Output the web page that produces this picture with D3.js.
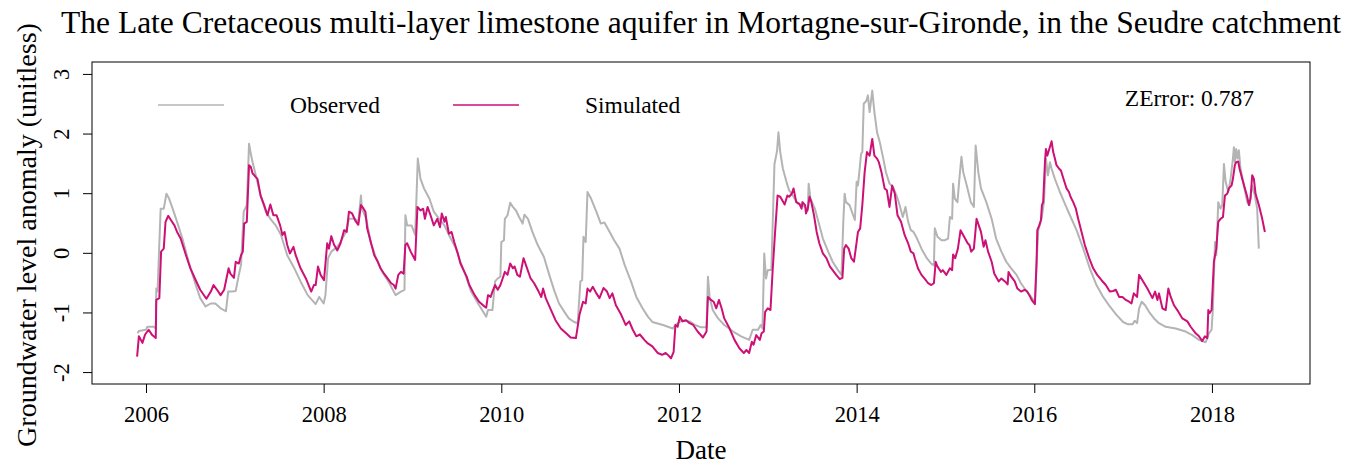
<!DOCTYPE html>
<meta charset="utf-8">
<script src="https://cdn.jsdelivr.net/npm/d3@7"></script>
<style>
  body { margin: 0; background: #fff; }
  text { font-family: "Liberation Serif", "Times New Roman", serif; fill: #000; }
</style>
<div id="my_dataviz"></div>
<script>

// ---- data (decimal year, anomaly) ----
var observed = [[2005.905,-1.35],[2005.92,-1.31],[2006.00,-1.29],[2006.015,-1.24],[2006.09,-1.24],[2006.11,-1.27],[2006.116,-0.60],[2006.13,-0.65],[2006.165,0.74],[2006.20,0.74],[2006.23,0.99],[2006.26,0.91],[2006.30,0.74],[2006.35,0.52],[2006.41,0.24],[2006.48,-0.15],[2006.56,-0.54],[2006.61,-0.76],[2006.67,-0.90],[2006.73,-0.85],[2006.78,-0.85],[2006.84,-0.93],[2006.90,-0.98],[2006.925,-0.65],[2006.97,-0.65],[2007.01,-0.64],[2007.045,-0.37],[2007.07,-0.20],[2007.10,0.69],[2007.135,0.80],[2007.16,1.83],[2007.18,1.66],[2007.20,1.52],[2007.236,1.30],[2007.29,0.96],[2007.35,0.69],[2007.40,0.57],[2007.46,0.46],[2007.52,0.30],[2007.59,-0.04],[2007.67,-0.26],[2007.74,-0.48],[2007.82,-0.71],[2007.91,-0.86],[2007.95,-0.74],[2008.00,-0.85],[2008.02,-0.71],[2008.05,-0.09],[2008.086,0.02],[2008.154,0.10],[2008.19,0.18],[2008.25,0.35],[2008.285,0.57],[2008.35,0.57],[2008.39,0.52],[2008.42,0.96],[2008.43,0.74],[2008.48,0.57],[2008.53,0.18],[2008.59,-0.09],[2008.66,-0.32],[2008.74,-0.51],[2008.81,-0.71],[2008.87,-0.65],[2008.91,-0.62],[2008.92,0.63],[2008.94,0.46],[2008.99,0.46],[2009.03,0.30],[2009.06,1.58],[2009.09,1.24],[2009.13,1.08],[2009.19,0.91],[2009.24,0.69],[2009.30,0.57],[2009.36,0.46],[2009.41,0.30],[2009.49,0.07],[2009.54,-0.15],[2009.61,-0.43],[2009.66,-0.65],[2009.75,-0.88],[2009.83,-1.07],[2009.85,-0.96],[2009.90,-0.96],[2009.93,-0.48],[2009.96,-0.43],[2009.99,-0.40],[2010.00,0.18],[2010.03,0.21],[2010.04,0.57],[2010.07,0.63],[2010.10,0.84],[2010.13,0.77],[2010.165,0.71],[2010.20,0.60],[2010.24,0.49],[2010.26,0.64],[2010.30,0.57],[2010.35,0.35],[2010.41,0.13],[2010.48,-0.07],[2010.54,-0.37],[2010.60,-0.65],[2010.65,-0.85],[2010.71,-0.99],[2010.76,-1.10],[2010.82,-1.16],[2010.86,-1.18],[2010.89,-0.48],[2010.91,-0.46],[2010.925,0.27],[2010.95,0.18],[2010.97,1.02],[2011.01,0.91],[2011.07,0.69],[2011.12,0.49],[2011.16,0.51],[2011.22,0.35],[2011.27,0.21],[2011.33,0.07],[2011.39,-0.21],[2011.46,-0.48],[2011.52,-0.74],[2011.59,-0.93],[2011.65,-1.07],[2011.70,-1.16],[2011.82,-1.21],[2011.93,-1.27],[2011.96,-1.21],[2011.985,-1.18],[2012.04,-1.13],[2012.12,-1.15],[2012.18,-1.21],[2012.25,-1.25],[2012.31,-1.25],[2012.326,-0.40],[2012.345,-0.74],[2012.38,-0.96],[2012.44,-1.10],[2012.51,-1.21],[2012.61,-1.32],[2012.70,-1.40],[2012.79,-1.46],[2012.83,-1.29],[2012.89,-1.29],[2012.92,-1.21],[2012.94,-1.27],[2012.96,-0.01],[2012.98,-0.43],[2013.00,-0.29],[2013.04,-0.29],[2013.056,0.52],[2013.075,1.49],[2013.094,1.63],[2013.105,1.72],[2013.12,2.02],[2013.14,1.69],[2013.17,1.41],[2013.21,1.19],[2013.24,1.05],[2013.29,0.94],[2013.34,0.82],[2013.38,0.80],[2013.42,0.77],[2013.45,0.71],[2013.46,1.16],[2013.48,0.91],[2013.53,0.74],[2013.57,0.52],[2013.62,0.24],[2013.68,0.02],[2013.73,-0.15],[2013.79,-0.29],[2013.83,-0.37],[2013.85,0.52],[2013.865,0.99],[2013.88,0.85],[2013.92,0.80],[2013.98,0.55],[2014.00,1.19],[2014.015,1.13],[2014.03,1.35],[2014.05,1.66],[2014.064,1.69],[2014.08,2.50],[2014.11,2.55],[2014.127,2.64],[2014.146,2.36],[2014.176,2.72],[2014.20,2.36],[2014.23,2.02],[2014.26,1.86],[2014.30,1.58],[2014.33,1.35],[2014.37,1.16],[2014.41,1.10],[2014.45,0.96],[2014.48,0.82],[2014.52,0.60],[2014.55,0.77],[2014.58,0.52],[2014.61,0.38],[2014.64,0.35],[2014.67,0.27],[2014.73,0.07],[2014.79,-0.09],[2014.84,-0.18],[2014.87,-0.21],[2014.88,0.41],[2014.91,0.27],[2014.955,0.21],[2014.99,0.21],[2015.03,0.24],[2015.05,0.60],[2015.075,0.57],[2015.086,1.16],[2015.105,0.91],[2015.135,0.85],[2015.16,1.30],[2015.18,1.61],[2015.20,1.35],[2015.24,1.13],[2015.285,0.85],[2015.32,0.77],[2015.34,1.80],[2015.37,1.35],[2015.40,1.08],[2015.46,0.85],[2015.52,0.57],[2015.57,0.24],[2015.63,0.02],[2015.685,-0.15],[2015.74,-0.26],[2015.80,-0.37],[2015.85,-0.51],[2015.90,-0.62],[2015.95,-0.71],[2015.99,-0.79],[2016.007,-0.82],[2016.026,-0.15],[2016.045,0.38],[2016.082,0.57],[2016.109,0.85],[2016.131,1.58],[2016.154,1.30],[2016.176,1.52],[2016.195,1.41],[2016.232,1.24],[2016.288,1.02],[2016.345,0.82],[2016.401,0.63],[2016.476,0.38],[2016.551,0.07],[2016.625,-0.26],[2016.70,-0.54],[2016.775,-0.74],[2016.85,-0.90],[2016.925,-1.04],[2017.00,-1.16],[2017.056,-1.20],[2017.105,-1.20],[2017.131,-1.14],[2017.157,-1.18],[2017.18,-0.93],[2017.21,-0.82],[2017.247,-0.88],[2017.292,-0.99],[2017.348,-1.10],[2017.404,-1.18],[2017.479,-1.24],[2017.592,-1.27],[2017.704,-1.32],[2017.779,-1.38],[2017.854,-1.46],[2017.929,-1.50],[2017.966,-1.35],[2017.996,-1.29],[2018.011,-0.93],[2018.034,0.18],[2018.049,-0.04],[2018.071,0.85],[2018.097,0.74],[2018.116,0.80],[2018.135,1.49],[2018.154,1.19],[2018.184,1.02],[2018.21,1.24],[2018.236,1.58],[2018.247,1.77],[2018.258,1.52],[2018.273,1.74],[2018.288,1.58],[2018.303,1.72],[2018.322,1.41],[2018.36,1.13],[2018.397,0.85],[2018.423,0.80],[2018.453,1.13],[2018.483,0.96],[2018.509,0.74],[2018.528,0.07]];

var simulated = [[2005.90,-1.74],[2005.92,-1.40],[2005.96,-1.51],[2005.99,-1.37],[2006.03,-1.29],[2006.07,-1.38],[2006.11,-1.43],[2006.116,-0.79],[2006.15,-0.76],[2006.17,0.02],[2006.20,0.07],[2006.22,0.52],[2006.25,0.62],[2006.28,0.55],[2006.32,0.46],[2006.35,0.35],[2006.39,0.24],[2006.45,-0.04],[2006.50,-0.26],[2006.56,-0.46],[2006.61,-0.62],[2006.68,-0.77],[2006.73,-0.65],[2006.76,-0.54],[2006.80,-0.62],[2006.84,-0.71],[2006.88,-0.62],[2006.93,-0.26],[2006.95,-0.35],[2006.99,-0.42],[2007.01,-0.15],[2007.045,-0.18],[2007.07,-0.04],[2007.09,0.02],[2007.105,0.49],[2007.135,0.52],[2007.16,1.47],[2007.18,1.44],[2007.20,1.33],[2007.22,1.30],[2007.236,1.27],[2007.255,1.24],[2007.29,0.96],[2007.33,0.80],[2007.367,0.63],[2007.40,0.81],[2007.434,0.63],[2007.47,0.63],[2007.51,0.46],[2007.536,0.30],[2007.56,0.35],[2007.59,0.13],[2007.62,-0.01],[2007.66,0.10],[2007.685,-0.04],[2007.74,-0.26],[2007.80,-0.43],[2007.86,-0.65],[2007.89,-0.54],[2007.91,-0.54],[2007.936,-0.23],[2007.966,-0.37],[2008.004,-0.46],[2008.04,0.16],[2008.06,0.07],[2008.086,0.28],[2008.116,0.14],[2008.154,0.04],[2008.19,0.16],[2008.23,0.38],[2008.26,0.35],[2008.285,0.69],[2008.32,0.66],[2008.36,0.53],[2008.39,0.47],[2008.42,0.80],[2008.45,0.74],[2008.47,0.69],[2008.49,0.41],[2008.53,0.18],[2008.57,-0.04],[2008.61,-0.15],[2008.64,-0.26],[2008.68,-0.35],[2008.72,-0.43],[2008.76,-0.51],[2008.79,-0.54],[2008.81,-0.60],[2008.84,-0.37],[2008.87,-0.32],[2008.90,-0.35],[2008.92,0.13],[2008.94,0.16],[2008.98,0.02],[2009.03,-0.12],[2009.056,0.77],[2009.09,0.71],[2009.12,0.74],[2009.14,0.57],[2009.17,0.77],[2009.21,0.60],[2009.24,0.46],[2009.28,0.57],[2009.31,0.43],[2009.33,0.66],[2009.36,0.52],[2009.375,0.60],[2009.41,0.32],[2009.44,0.35],[2009.47,0.18],[2009.51,-0.01],[2009.54,-0.18],[2009.61,-0.40],[2009.64,-0.54],[2009.70,-0.71],[2009.75,-0.82],[2009.81,-0.90],[2009.83,-0.92],[2009.85,-0.71],[2009.88,-0.74],[2009.90,-0.65],[2009.93,-0.54],[2009.96,-0.62],[2009.99,-0.54],[2010.015,-0.43],[2010.04,-0.32],[2010.07,-0.37],[2010.10,-0.18],[2010.13,-0.26],[2010.15,-0.23],[2010.18,-0.37],[2010.21,-0.40],[2010.25,-0.09],[2010.29,-0.26],[2010.33,-0.43],[2010.37,-0.51],[2010.42,-0.65],[2010.45,-0.74],[2010.47,-0.60],[2010.50,-0.76],[2010.56,-0.96],[2010.61,-1.13],[2010.67,-1.27],[2010.73,-1.35],[2010.78,-1.42],[2010.84,-1.43],[2010.88,-1.04],[2010.92,-0.82],[2010.95,-0.85],[2010.97,-0.60],[2011.00,-0.65],[2011.03,-0.57],[2011.07,-0.68],[2011.105,-0.76],[2011.15,-0.59],[2011.19,-0.65],[2011.22,-0.76],[2011.25,-0.68],[2011.29,-0.88],[2011.35,-1.04],[2011.40,-1.21],[2011.44,-1.15],[2011.48,-1.29],[2011.52,-1.40],[2011.56,-1.37],[2011.61,-1.46],[2011.65,-1.52],[2011.70,-1.57],[2011.76,-1.68],[2011.81,-1.71],[2011.85,-1.68],[2011.88,-1.72],[2011.91,-1.77],[2011.94,-1.66],[2011.96,-1.21],[2011.985,-1.24],[2012.01,-1.07],[2012.04,-1.15],[2012.08,-1.13],[2012.12,-1.18],[2012.16,-1.21],[2012.21,-1.32],[2012.27,-1.42],[2012.31,-1.32],[2012.326,-0.74],[2012.36,-0.79],[2012.39,-0.82],[2012.42,-0.93],[2012.45,-0.79],[2012.48,-0.93],[2012.51,-1.10],[2012.57,-1.27],[2012.625,-1.46],[2012.68,-1.60],[2012.73,-1.68],[2012.76,-1.63],[2012.79,-1.68],[2012.82,-1.49],[2012.84,-1.54],[2012.87,-1.38],[2012.91,-1.46],[2012.93,-1.35],[2012.955,-1.32],[2012.97,-0.99],[2013.00,-0.93],[2013.03,-0.96],[2013.056,-0.26],[2013.08,0.30],[2013.11,0.96],[2013.14,0.94],[2013.19,0.81],[2013.22,0.96],[2013.24,0.94],[2013.27,0.99],[2013.29,1.08],[2013.32,0.85],[2013.356,0.82],[2013.38,0.74],[2013.39,0.85],[2013.42,0.80],[2013.43,0.66],[2013.45,0.74],[2013.47,0.94],[2013.49,0.85],[2013.52,0.63],[2013.55,0.35],[2013.58,0.16],[2013.62,-0.01],[2013.66,-0.09],[2013.70,-0.23],[2013.73,-0.29],[2013.77,-0.37],[2013.81,-0.44],[2013.84,-0.42],[2013.86,0.07],[2013.88,0.13],[2013.91,0.07],[2013.94,-0.09],[2013.97,-0.15],[2014.00,0.18],[2014.015,0.35],[2014.04,0.41],[2014.064,0.80],[2014.09,1.35],[2014.116,1.69],[2014.146,1.63],[2014.176,1.91],[2014.20,1.63],[2014.23,1.58],[2014.25,1.52],[2014.28,1.35],[2014.315,1.08],[2014.34,1.05],[2014.37,0.77],[2014.40,1.13],[2014.43,0.99],[2014.46,0.63],[2014.50,0.52],[2014.54,0.30],[2014.58,0.16],[2014.61,0.02],[2014.64,-0.01],[2014.655,-0.09],[2014.69,-0.26],[2014.73,-0.37],[2014.77,-0.44],[2014.805,-0.51],[2014.84,-0.54],[2014.87,-0.51],[2014.89,-0.15],[2014.91,-0.23],[2014.95,-0.32],[2014.97,-0.29],[2015.01,-0.37],[2015.05,-0.26],[2015.075,-0.29],[2015.086,-0.03],[2015.11,-0.09],[2015.14,0.07],[2015.17,0.38],[2015.21,0.27],[2015.25,0.16],[2015.27,0.13],[2015.29,0.02],[2015.32,0.07],[2015.35,0.57],[2015.375,0.46],[2015.40,0.35],[2015.43,0.10],[2015.45,0.21],[2015.48,0.02],[2015.52,-0.15],[2015.55,-0.35],[2015.60,-0.48],[2015.63,-0.43],[2015.67,-0.48],[2015.70,-0.53],[2015.71,-0.32],[2015.74,-0.40],[2015.78,-0.48],[2015.81,-0.60],[2015.85,-0.65],[2015.895,-0.62],[2015.92,-0.65],[2015.944,-0.71],[2015.97,-0.79],[2016.007,-0.86],[2016.026,-0.15],[2016.034,0.38],[2016.056,0.46],[2016.075,0.55],[2016.086,0.80],[2016.10,0.85],[2016.12,1.52],[2016.131,1.74],[2016.146,1.63],[2016.169,1.74],[2016.195,1.87],[2016.213,1.69],[2016.232,1.58],[2016.25,1.47],[2016.28,1.41],[2016.30,1.38],[2016.333,1.22],[2016.363,1.08],[2016.39,1.02],[2016.408,0.94],[2016.438,0.85],[2016.468,0.74],[2016.494,0.57],[2016.532,0.35],[2016.569,0.13],[2016.618,-0.09],[2016.663,-0.26],[2016.708,-0.37],[2016.757,-0.46],[2016.805,-0.54],[2016.85,-0.65],[2016.888,-0.64],[2016.918,-0.62],[2016.955,-0.74],[2016.993,-0.74],[2017.03,-0.79],[2017.067,-0.82],[2017.094,-0.85],[2017.12,-0.68],[2017.157,-0.74],[2017.18,-0.37],[2017.217,-0.46],[2017.273,-0.60],[2017.33,-0.76],[2017.36,-0.65],[2017.386,-0.79],[2017.404,-0.68],[2017.442,-0.93],[2017.479,-0.96],[2017.509,-0.60],[2017.536,-0.74],[2017.573,-0.88],[2017.61,-0.96],[2017.667,-1.10],[2017.723,-1.15],[2017.76,-1.24],[2017.817,-1.35],[2017.854,-1.40],[2017.891,-1.48],[2017.921,-1.40],[2017.948,-1.43],[2017.959,-0.96],[2017.974,-1.01],[2017.996,-0.96],[2018.022,-0.15],[2018.049,0.07],[2018.071,0.52],[2018.097,0.57],[2018.124,0.60],[2018.146,0.96],[2018.172,0.99],[2018.191,1.08],[2018.221,1.13],[2018.236,1.24],[2018.258,1.47],[2018.273,1.52],[2018.296,1.53],[2018.311,1.41],[2018.341,1.24],[2018.371,1.08],[2018.397,0.94],[2018.416,0.80],[2018.434,0.91],[2018.453,1.30],[2018.472,1.24],[2018.491,0.99],[2018.528,0.80],[2018.566,0.57],[2018.596,0.35]];

var xTicks = [2006, 2008, 2010, 2012, 2014, 2016, 2018];
var yTicks = [-2, -1, 0, 1, 2, 3];
var yLimits = [-2, 3];
var seriesNames = ["Observed", "Simulated"];
var seriesColors = ["#b4b4b4", "#cd1076"];
var zError = 0.787;
var titleText = "The Late Cretaceous multi-layer limestone aquifer in Mortagne-sur-Gironde, in the Seudre catchment";

// set the dimensions and margins of the graph
var W = 1360, H = 465;
var margin = {top: 62, right: 50, bottom: 81, left: 92},
    width = W - margin.left - margin.right,
    height = H - margin.top - margin.bottom;

var svg = d3.select("#my_dataviz")
  .append("svg")
    .attr("width", W)
    .attr("height", H);

var g = svg.append("g")
    .attr("transform", "translate(" + margin.left + "," + margin.top + ")");

// R style 4% padding on each side
function pad(ext) {
  var d = (ext[1] - ext[0]) * 0.04;
  return [ext[0] - d, ext[1] + d];
}

var xExt = d3.extent(observed.concat(simulated), function(d) { return d[0]; });
var x = d3.scaleLinear().domain(pad(xExt)).range([0, width]);
var y = d3.scaleLinear().domain(pad(yLimits)).range([height, 0]);

// X axis
var xAxis = g.append("g")
    .attr("transform", "translate(0," + height + ")")
    .call(d3.axisBottom(x).tickValues(xTicks).tickSize(9).tickPadding(13)
      .tickFormat(function(d) { return String(d); }));
xAxis.select(".domain").remove();
xAxis.selectAll("text")
    .style("font-size", "22.5px")
    .style("font-family", "Liberation Serif, serif");

// Y axis, labels parallel to the axis
var yAxis = g.append("g")
    .call(d3.axisLeft(y).tickValues(yTicks).tickSize(9)
      .tickFormat(function(d) { return String(d); }));
yAxis.select(".domain").remove();
yAxis.selectAll("text")
    .attr("x", null).attr("dy", null)
    .attr("text-anchor", "middle")
    .attr("transform", "translate(-23,0) rotate(-90)")
    .style("font-size", "22.5px")
    .style("font-family", "Liberation Serif, serif");

// lines
var line = d3.line()
    .x(function(d) { return x(d[0]); })
    .y(function(d) { return y(d[1]); });

g.append("path")
    .datum(observed)
    .attr("d", line)
    .attr("fill", "none")
    .attr("stroke", seriesColors[0])
    .attr("stroke-width", 2)
    .attr("stroke-linejoin", "round");

g.append("path")
    .datum(simulated)
    .attr("d", line)
    .attr("fill", "none")
    .attr("stroke", seriesColors[1])
    .attr("stroke-width", 2)
    .attr("stroke-linejoin", "round");

// box around the plot
g.append("rect")
    .attr("x", 0).attr("y", 0)
    .attr("width", width).attr("height", height)
    .attr("fill", "none")
    .attr("stroke", "#000")
    .attr("stroke-width", 1);

// legend (horizontal, no border)
var legendX = [66, 361];
seriesNames.forEach(function(name, i) {
  g.append("line")
      .attr("x1", legendX[i]).attr("x2", legendX[i] + 66)
      .attr("y1", 43).attr("y2", 43)
      .attr("stroke", seriesColors[i])
      .attr("stroke-width", 1.5);
  g.append("text")
      .attr("x", legendX[i] + 132).attr("y", 51)
      .style("font-size", "23.5px")
      .text(name);
});

// ZError note
g.append("text")
    .attr("x", width - 56).attr("y", 44)
    .attr("text-anchor", "end")
    .style("font-size", "23.5px")
    .text("ZError: " + zError);

// title and axis labels
svg.append("text")
    .attr("x", 701).attr("y", 33)
    .attr("text-anchor", "middle")
    .style("font-size", "31.5px")
    .text(titleText);

svg.append("text")
    .attr("x", margin.left + width / 2).attr("y", 459)
    .attr("text-anchor", "middle")
    .style("font-size", "27px")
    .text("Date");

svg.append("text")
    .attr("transform", "translate(36,235) rotate(-90)")
    .attr("text-anchor", "middle")
    .style("font-size", "28px")
    .text("Groundwater level anomaly (unitless)");

</script>
